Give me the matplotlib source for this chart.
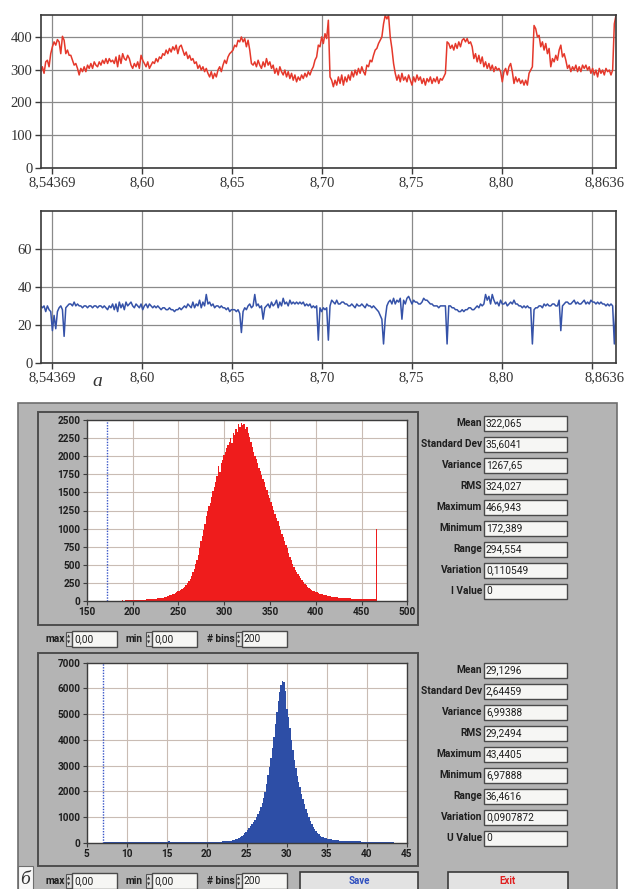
import numpy as np
import matplotlib
matplotlib.use('Agg')
import matplotlib.pyplot as plt
from matplotlib.patches import Rectangle
from matplotlib.transforms import ScaledTranslation
from matplotlib import font_manager

W, H = 629, 889

# time axis of the two signal charts
t_start, t_end = 8.54369, 8.8636
t_ticks = [8.55, 8.60, 8.65, 8.70, 8.75, 8.80, 8.85]
t_labels = ['8,54369', '8,60', '8,65', '8,70', '8,75', '8,80', '8,8636']

# upper signal (red)
red_signal = [
    294, 309, 289, 324, 329, 309, 349, 370, 385, 375,
    392, 385, 349, 402, 390, 349, 360, 344, 344, 329,
    314, 319, 304, 284, 304, 294, 309, 294, 314, 304,
    319, 304, 324, 314, 309, 324, 314, 329, 319, 334,
    319, 334, 324, 329, 319, 339, 309, 344, 319, 349,
    334, 329, 344, 334, 314, 304, 319, 309, 324, 304,
    344, 329, 319, 309, 324, 304, 314, 324, 319, 334,
    324, 339, 334, 349, 344, 360, 349, 365, 354, 370,
    360, 375, 349, 370, 375, 360, 344, 354, 334, 344,
    329, 334, 319, 324, 304, 314, 299, 309, 294, 304,
    289, 278, 294, 273, 289, 278, 299, 309, 294, 314,
    329, 319, 339, 349, 354, 360, 375, 370, 390, 385,
    400, 385, 395, 370, 390, 360, 319, 314, 324, 309,
    329, 314, 304, 324, 309, 334, 314, 324, 304, 314,
    289, 304, 284, 309, 294, 284, 299, 278, 294, 273,
    289, 268, 284, 263, 278, 268, 284, 273, 289, 278,
    294, 284, 299, 309, 329, 339, 375, 370,
    400, 380, 410, 395, 451, 278, 268, 248, 268, 253,
    278, 258, 284, 253, 278, 263, 284, 268, 294, 278,
    299, 284, 304, 289, 309, 294, 284, 314, 309, 329,
    324, 344, 360, 365, 380, 390, 400, 440, 466, 455,
    466, 400, 365, 319, 289, 268, 284, 263, 289, 268,
    278, 263, 284, 268, 253, 278, 263, 284, 268, 278,
    258, 273, 253, 273, 263, 278, 258, 273, 263, 278,
    258, 273, 268, 278, 289, 385, 380, 365, 375, 360,
    380, 365, 385, 370, 390, 395, 385, 395, 380, 385,
    370, 334, 349, 324, 344, 319, 339, 309, 324, 304,
    319, 299, 314, 294, 309, 299, 304, 294, 263, 294,
    304, 284, 309, 319, 294, 258, 278, 263, 273, 258,
    268, 253, 268, 253, 289, 299, 309, 435, 425, 400,
    405, 370, 385, 360, 380, 349, 365, 309, 334, 324,
    344, 329, 360, 375, 339, 349, 329, 304, 314, 294,
    309, 299, 314, 294, 309, 294, 314, 304, 314, 299,
    309, 289, 304, 284, 299, 278, 304, 289, 299, 284,
    304, 294, 299, 284, 299, 440, 466,
]

# lower signal (blue)
blue_signal = [
    30, 29, 30, 27, 30, 28, 27, 17, 25, 18,
    27, 29, 30, 28, 14, 29, 30, 31, 31, 30,
    32, 30, 31, 30, 30, 29, 30, 30, 29, 30,
    30, 29, 30, 30, 29, 30, 30, 29, 30, 29,
    28, 30, 29, 31, 28, 31, 27, 32, 29, 31,
    28, 32, 30, 31, 32, 30, 29, 31, 30, 29,
    31, 28, 30, 31, 29, 31, 30, 29, 30, 29,
    30, 29, 28, 29, 29, 28, 28, 29, 28, 28,
    27, 28, 28, 29, 28, 29, 30, 29, 31, 30,
    29, 32, 29, 31, 30, 33, 29, 32, 30, 36,
    31, 32, 30, 31, 29, 30, 30, 29, 30, 29,
    29, 28, 29, 27, 28, 28, 28, 27, 28, 26,
    16, 27, 29, 28, 30, 31, 29, 30, 36, 30,
    31, 29, 30, 23, 29, 30, 31, 29, 32, 30,
    31, 33, 29, 32, 30, 34, 31, 32, 30, 33,
    31, 32, 31, 32, 31, 32, 31, 32, 30, 31,
    30, 31, 29, 30, 29, 30, 12, 29,
    27, 29, 28, 29, 12, 30, 33, 32, 31, 33,
    31, 31, 32, 32, 31, 31, 30, 30, 31, 30,
    29, 31, 30, 30, 31, 30, 29, 31, 30, 30,
    29, 30, 29, 28, 27, 25, 23, 10, 23, 30,
    32, 33, 31, 34, 31, 33, 32, 34, 23, 33,
    31, 34, 35, 33, 31, 33, 32, 32, 31, 31,
    32, 34, 33, 33, 32, 31, 31, 30, 30, 30,
    29, 30, 30, 30, 30, 10, 30, 30, 29, 29,
    28, 28, 27, 27, 28, 27, 28, 28, 29, 29,
    28, 28, 29, 30, 29, 31, 30, 31, 36, 33,
    35, 31, 36, 33, 31, 32, 30, 33, 31, 31,
    32, 30, 31, 32, 31, 33, 31, 31, 30, 30,
    29, 30, 29, 30, 29, 29, 10, 28, 29, 29,
    30, 30, 29, 31, 30, 31, 30, 30, 31, 31,
    30, 30, 33, 17, 30, 31, 32, 32, 31, 31,
    32, 33, 31, 32, 31, 31, 32, 33, 31, 32,
    31, 33, 32, 32, 31, 32, 31, 32, 31, 31,
    30, 31, 30, 31, 30, 10, 30,
]

# histogram 1 (200 bins between min and max)
hist1_min, hist1_max = 172.389, 466.943
hist1_counts = [
    2, 0, 1, 3, 2, 4, 3, 5, 4, 6,
    5, 7, 6, 8, 7, 9, 10, 9, 11, 12,
    12, 14, 13, 15, 17, 16, 18, 20, 19, 22,
    24, 23, 26, 28, 30, 29, 33, 36, 35, 40,
    44, 48, 52, 58, 63, 70, 78, 85, 95, 102,
    110, 120, 132, 145, 158, 170, 185, 200, 222, 250,
    280, 310, 350, 395, 445, 505, 570, 640, 730, 830,
    900, 980, 1060, 1180, 1250, 1310, 1360, 1440, 1520, 1580,
    1640, 1720, 1860, 1780, 1900, 1950, 2010, 2060, 2120, 2150,
    2200, 2250, 2180, 2320, 2290, 2380, 2340, 2440, 2400, 2460,
    2430, 2450, 2380, 2400, 2320, 2260, 2200, 2130, 2060, 2000,
    1960, 1900, 1840, 1800, 1740, 1680, 1640, 1580, 1530, 1470,
    1420, 1370, 1310, 1260, 1200, 1140, 1100, 1040, 980, 930,
    880, 830, 770, 730, 660, 610, 560, 510, 470, 430,
    400, 370, 345, 320, 290, 265, 240, 220, 200, 185,
    170, 155, 145, 135, 125, 118, 110, 100, 95, 90,
    85, 80, 76, 72, 68, 65, 62, 58, 55, 52,
    50, 48, 46, 44, 42, 41, 40, 38, 37, 36,
    35, 34, 33, 32, 31, 31, 30, 29, 29, 28,
    28, 27, 27, 26, 26, 25, 25, 24, 24, 995,
]

# histogram 2
hist2_min, hist2_max = 6.97888, 43.4405
hist2_counts = [
    5, 18, 25, 30, 32, 35, 33, 36, 38, 35,
    37, 36, 38, 40, 37, 39, 38, 40, 41, 39,
    40, 42, 41, 43, 40, 42, 44, 41, 43, 42,
    44, 43, 45, 42, 44, 46, 43, 45, 44, 46,
    45, 43, 46, 44, 45, 47, 44, 46, 45, 43,
    44, 42, 45, 43, 41, 44, 42, 40, 43, 41,
    40, 42, 39, 41, 38, 40, 39, 37, 40, 38,
    37, 39, 36, 38, 37, 39, 38, 40, 39, 41,
    43, 45, 48, 52, 56, 62, 68, 76, 85, 98,
    115, 135, 160, 190, 225, 265, 310, 360, 420, 490,
    560, 640, 720, 810, 900, 1000, 1110, 1230, 1380, 1550,
    1750, 1980, 2300, 2650, 2950, 3300, 3700, 4100, 4600, 5100,
    5500, 5850, 6150, 6300, 6250, 5900, 5200, 4900, 4450, 4000,
    3600, 3200, 2900, 2600, 2350, 2150, 1900, 1700, 1500, 1300,
    1150, 1000, 850, 720, 610, 520, 440, 370, 320, 280,
    240, 215, 190, 170, 155, 140, 128, 118, 110, 102,
    96, 90, 85, 80, 76, 72, 68, 65, 62, 60,
    58, 56, 54, 52, 50, 49, 48, 46, 45, 44,
    43, 42, 41, 40, 39, 38, 37, 36, 35, 34,
    33, 32, 31, 30, 29, 28, 27, 26, 25, 20,
]
n_bins = 200

stat_names_1 = ['Mean', 'Standard Dev', 'Variance', 'RMS', 'Maximum',
                'Minimum', 'Range', 'Variation', 'I Value']
stat_vals_1 = ['322,065', '35,6041', '1267,65', '324,027', '466,943',
               '172,389', '294,554', '0,110549', '0']
stat_names_2 = ['Mean', 'Standard Dev', 'Variance', 'RMS', 'Maximum',
                'Minimum', 'Range', 'Variation', 'U Value']
stat_vals_2 = ['29,1296', '2,64459', '6,99388', '29,2494', '43,4405',
               '6,97888', '36,4616', '0,0907872', '0']
ctrl_max, ctrl_min, ctrl_bins = '0,00', '0,00', '200'


def pick(*names):
    for n in names:
        try:
            font_manager.findfont(n, fallback_to_default=False)
            return n
        except ValueError:
            pass
    return 'DejaVu Sans'


serif = 'Liberation Serif'
ui = pick('Liberation Sans Narrow', 'Roboto')


def rect(x0, y0, x1, y1):
    # pixel box -> figure fraction
    return [x0 / W, 1 - y1 / H, (x1 - x0) / W, (y1 - y0) / H]


fig = plt.figure(figsize=(W / 100, H / 100), dpi=100)
bg = fig.add_axes([0, 0, 1, 1], zorder=0)
bg.set_xlim(0, W)
bg.set_ylim(H, 0)
bg.axis('off')


def signal_axes(box, values, color, ymax, yticks):
    ax = fig.add_axes(rect(*box), zorder=2)
    t = np.linspace(t_start, t_end, len(values))
    ax.plot(t, values, color=color, lw=1.1)
    ax.set_xlim(t_start, t_end)
    ax.set_ylim(0, ymax)
    ax.set_yticks(yticks)
    ax.set_xticks(t_ticks)
    ax.set_xticklabels(t_labels)
    ax.grid(color='#8a8a8a', lw=0.9)
    ax.set_axisbelow(True)
    for s in ax.spines.values():
        s.set_color('#3a3a3a')
        s.set_linewidth(1.2)
    ax.tick_params(direction='out', length=4, width=1, color='#3a3a3a',
                   labelsize=10.5, labelcolor='#333333', pad=2)
    for lbl in ax.get_xticklabels() + ax.get_yticklabels():
        lbl.set_fontfamily(serif)
    last = ax.get_xticklabels()[-1]
    last.set_transform(last.get_transform() + ScaledTranslation(0.13, 0, fig.dpi_scale_trans))
    return ax


signal_axes((40.7, 15, 616, 168), red_signal, '#e5382b', 467, [0, 100, 200, 300, 400])
signal_axes((40.7, 210.7, 616, 363), blue_signal, '#3552a8', 80, [0, 20, 40, 60])
bg.text(97, 381, 'а', fontsize=14, fontstyle='italic', family=serif, color='#333333',
        ha='center', va='center')

# instrument panel
panel_grey = '#b4b4b4'
bg.add_patch(Rectangle((18, 403), 599, 490, fc=panel_grey, ec='#6e6e6e', lw=1.2))
for y0 in (412, 653):
    bg.add_patch(Rectangle((38, y0), 380, 213, fc=panel_grey, ec='#4e4e4e', lw=1.4))


def hist_axes(box, counts, lo, hi, color, xlim, xticks, ylim, yticks):
    ax = fig.add_axes(rect(*box), zorder=2)
    edges = np.linspace(lo, hi, n_bins + 1)
    ax.stairs(counts, edges, fill=True, color=color, lw=0)
    ax.axvline(lo, color='#3a56c8', ls=(0, (1, 1)), lw=1.0)
    ax.set_xlim(*xlim)
    ax.set_ylim(*ylim)
    ax.set_xticks(xticks)
    ax.set_yticks(yticks)
    ax.grid(color='#c9bcb4', lw=0.8)
    ax.set_axisbelow(True)
    for s in ax.spines.values():
        s.set_color('#3c3c3c')
        s.set_linewidth(1.0)
    ax.tick_params(direction='out', length=3, width=0.8, color='#3c3c3c',
                   labelsize=7.2, labelcolor='#1e1e1e', pad=1.5)
    for lbl in ax.get_xticklabels() + ax.get_yticklabels():
        lbl.set_fontfamily(ui)
        lbl.set_fontweight('bold')
    return ax


hist_axes((86.7, 420, 407.3, 601), hist1_counts, hist1_min, hist1_max, '#ef1c1c',
          (150, 500), list(range(150, 501, 50)), (0, 2500), list(range(0, 2501, 250)))
hist_axes((86.7, 662.7, 406.7, 842.7), hist2_counts, hist2_min, hist2_max, '#2d4ea6',
          (5, 45), list(range(5, 46, 5)), (0, 7000), list(range(0, 7001, 1000)))


def field(x0, x1, yc, text, h=15, size=7.3):
    bg.add_patch(Rectangle((x0, yc - h / 2), x1 - x0, h, fc='#f6f6f4', ec='#4a4a4a', lw=1.0))
    bg.text(x0 + 2, yc, text, fontsize=size, family=ui, color='#1e1e1e', va='center', ha='left')


def stats(names, vals, y0):
    for i, (n, v) in enumerate(zip(names, vals)):
        y = y0 + i * 21
        bg.text(482, y, n, fontsize=7.3, family=ui, fontweight='bold', color='#1e1e1e',
                ha='right', va='center')
        field(484, 567, y, v)


stats(stat_names_1, stat_vals_1, 423.3)
stats(stat_names_2, stat_vals_2, 670)


def spinner(x0, yc):
    bg.add_patch(Rectangle((x0, yc - 7), 6, 14, fc='#d8d8d8', ec='#555555', lw=0.8))
    bg.text(x0 + 3, yc - 3, '▲', fontsize=3, ha='center', va='center', color='#333333')
    bg.text(x0 + 3, yc + 3, '▼', fontsize=3, ha='center', va='center', color='#333333')


def controls(yc):
    for label, x_lab, x_sp, x0, x1, val in [('max', 65, 66, 72, 117, ctrl_max),
                                           ('min', 142, 146, 152, 197, ctrl_min),
                                           ('# bins', 235, 236, 242, 287, ctrl_bins)]:
        bg.text(x_lab, yc, label, fontsize=7.3, family=ui, fontweight='bold', color='#1e1e1e',
                ha='right', va='center')
        spinner(x_sp, yc)
        field(x0, x1, yc, val, h=16)


controls(639)
controls(881)

# bottom row: figure letter and buttons
bg.add_patch(Rectangle((18, 866), 15, 26, fc='#f7f7f7', ec='#6e6e6e', lw=0.8))
bg.text(25.5, 880, 'б', fontsize=14, fontstyle='italic', family=serif, color='#333333',
        ha='center', va='center')
for x0, x1, label, col in [(300, 418, 'Save', '#2f4fbf'), (448, 568, 'Exit', '#e02020')]:
    bg.add_patch(Rectangle((x0, 872), x1 - x0, 22, fc='#e2e2e2', ec='#3a3a3a', lw=1.2))
    bg.text((x0 + x1) / 2, 881, label, fontsize=7, family=ui, fontweight='bold', color=col,
            ha='center', va='center')

fig.savefig('out.png', dpi=100)
